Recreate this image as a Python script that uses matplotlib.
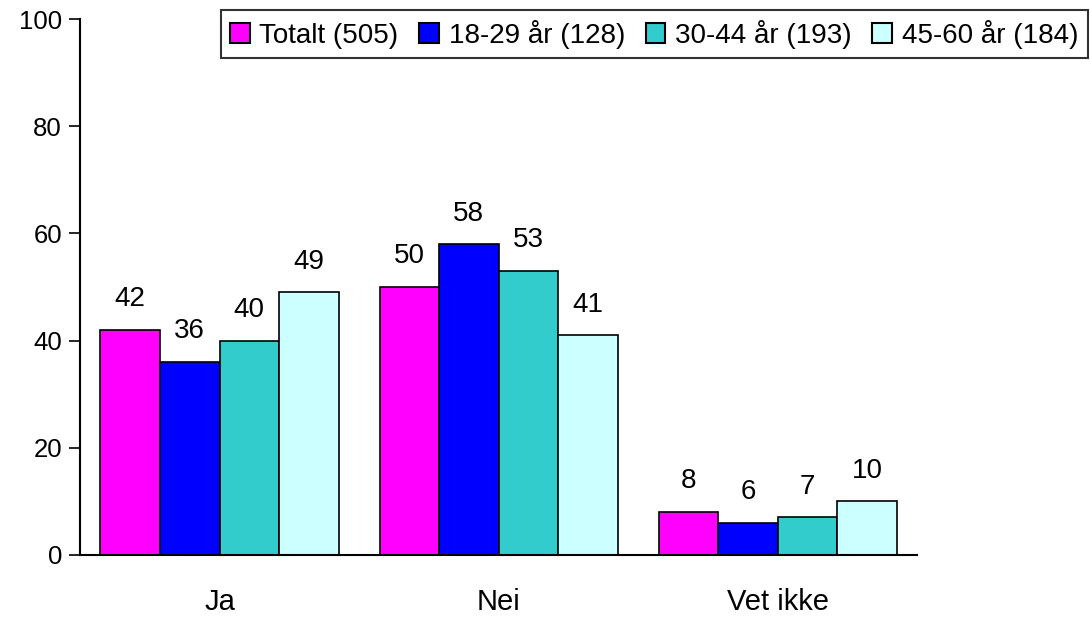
import matplotlib
matplotlib.use("Agg")
import matplotlib.pyplot as plt
import numpy as np

plt.rcParams['font.family'] = ['Liberation Sans', 'DejaVu Sans']

categories = ["Ja", "Nei", "Vet ikke"]
series_names = ["Totalt (505)", "18-29 år (128)", "30-44 år (193)", "45-60 år (184)"]
totalt = [42, 50, 8]
age_18_29 = [36, 58, 6]
age_30_44 = [40, 53, 7]
age_45_60 = [49, 41, 10]
series_values = [totalt, age_18_29, age_30_44, age_45_60]
colors = ["#FF00FF", "#0000FF", "#33CCCC", "#CCFFFF"]
yticks = [0, 20, 40, 60, 80, 100]

fig = plt.figure(figsize=(10.9, 6.18), dpi=100)
ax = fig.add_axes([0.0734, 0.102, 0.768, 0.867])

x = np.arange(len(categories))
bw = 0.2133
n = len(series_values)
for i, (vals, name, c) in enumerate(zip(series_values, series_names, colors)):
    pos = x + (i - (n - 1) / 2) * bw
    ax.bar(pos, vals, bw, color=c, edgecolor="black", linewidth=1.2, label=name)
    for p, v in zip(pos, vals):
        ax.text(p, v + 3.3, str(v), ha="center", va="bottom", fontsize=20)

ax.set_xlim(-0.5, 2.5)
ax.set_ylim(0, 100)
ax.set_yticks(yticks)
ax.set_xticks(x)
ax.set_xticklabels(categories, fontsize=21)
ax.tick_params(axis="x", length=0, pad=24)
ax.tick_params(axis="y", length=8, width=1.2, labelsize=18.5, direction="out", pad=5)
for s in ["top", "right"]:
    ax.spines[s].set_visible(False)
for s in ["left", "bottom"]:
    ax.spines[s].set_linewidth(1.5)

leg = fig.legend(loc="upper right", bbox_to_anchor=(0.998, 0.984), ncol=4, fontsize=20,
                 frameon=True, fancybox=False, edgecolor="black", handlelength=0.7,
                 handleheight=0.7, handletextpad=0.35, columnspacing=0.75,
                 borderpad=0.35, borderaxespad=0)
leg.get_frame().set_linewidth(1.5)
for h in leg.legend_handles:
    h.set_linewidth(1.5)

fig.savefig("out.png", dpi=100)
